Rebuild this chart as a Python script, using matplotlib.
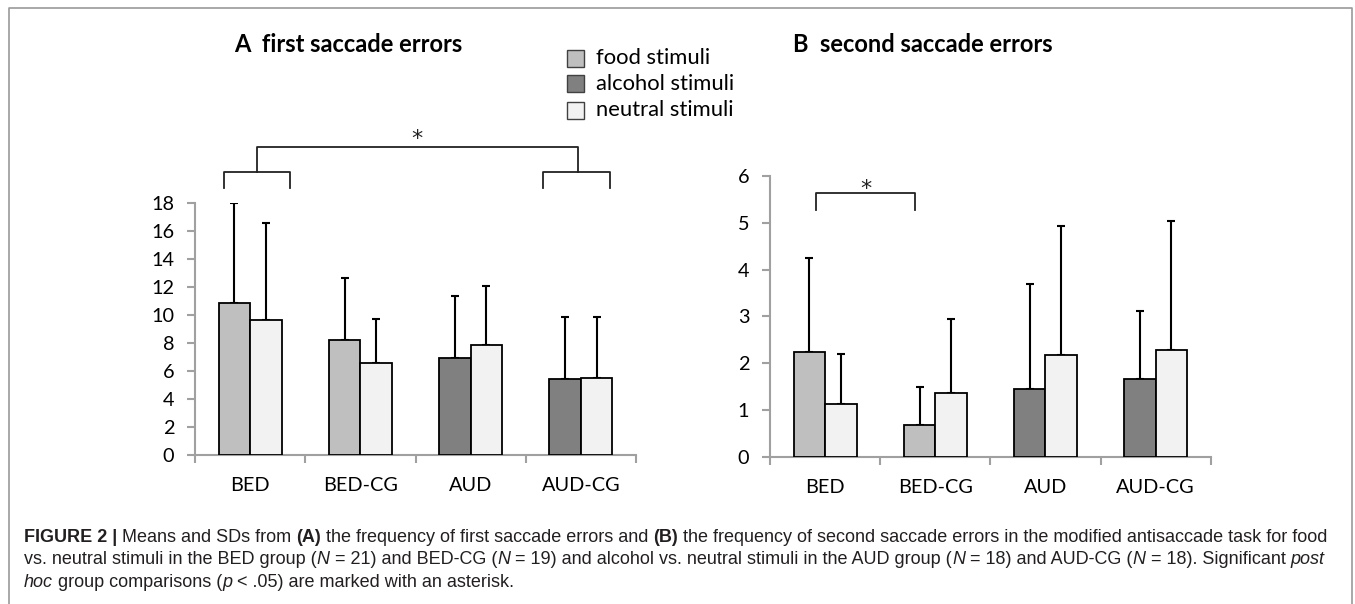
import matplotlib
matplotlib.use("Agg")
import matplotlib.pyplot as plt
from matplotlib.patches import Rectangle
from matplotlib.lines import Line2D
import numpy as np

# ---------------- data ----------------
groups = ["BED", "BED-CG", "AUD", "AUD-CG"]
stim_type = ["food", "food", "alcohol", "alcohol"]

# A: first saccade errors
a_stim_mean = [10.86, 8.22, 6.94, 5.40]
a_stim_sd = [7.14, 4.40, 4.40, 4.42]
a_neut_mean = [9.60, 6.56, 7.85, 5.47]
a_neut_sd = [6.97, 3.12, 4.20, 4.35]

# B: second saccade errors
b_stim_mean = [2.24, 0.68, 1.44, 1.67]
b_stim_sd = [2.00, 0.81, 2.25, 1.45]
b_neut_mean = [1.13, 1.37, 2.17, 2.28]
b_neut_sd = [1.07, 1.57, 2.76, 2.76]

a_yticks = [0, 2, 4, 6, 8, 10, 12, 14, 16, 18]
b_yticks = [0, 1, 2, 3, 4, 5, 6]

legend_labels = ["food stimuli", "alcohol stimuli", "neutral stimuli"]

# ---------------- style ----------------
C_FOOD = "#BFBFBF"
C_ALC = "#808080"
C_NEUT = "#F2F2F2"
C_SPINE = "#A0A0A0"
CHART_FONT = ["Lato", "DejaVu Sans"]
CAP_FONT = ["Liberation Sans", "DejaVu Sans"]

W, H = 1355, 604
fig = plt.figure(figsize=(W / 100, H / 100), dpi=100)
fig.patch.set_facecolor("white")


def fx(x):
    return x / W


def fy(y):
    return 1 - y / H


colors_stim = [C_FOOD if s == "food" else C_ALC for s in stim_type]
TICK_SIZE = 14.3


def make_panel(rect, stim_mean, stim_sd, neut_mean, neut_sd, yticks):
    ax = fig.add_axes(rect)
    x = np.arange(len(groups))
    bw = 0.286
    ax.bar(x - bw / 2, stim_mean, width=bw, color=colors_stim, edgecolor="black",
           linewidth=1.3, zorder=3)
    ax.bar(x + bw / 2, neut_mean, width=bw, color=C_NEUT, edgecolor="black",
           linewidth=1.3, zorder=3)
    for xs, m, s in [(x - bw / 2, stim_mean, stim_sd), (x + bw / 2, neut_mean, neut_sd)]:
        ax.errorbar(xs, m, yerr=[np.zeros(len(m)), s], fmt="none", ecolor="black",
                    elinewidth=1.5, capsize=3, capthick=1.5, zorder=2)
    ax.set_xlim(-0.5, len(groups) - 0.5)
    ax.set_ylim(0, yticks[-1])
    ax.set_yticks(yticks)
    ax.set_yticklabels([str(t) for t in yticks], fontfamily=CHART_FONT, fontsize=TICK_SIZE)
    ax.set_xticks(x)
    ax.set_xticklabels(groups, fontfamily=CHART_FONT, fontsize=TICK_SIZE)
    ax.set_xticks(np.arange(len(groups) + 1) - 0.5, minor=True)
    ax.tick_params(axis="x", which="major", length=0, pad=16)
    ax.tick_params(axis="x", which="minor", length=6, width=1.5, color=C_SPINE, direction="out")
    ax.tick_params(axis="y", length=6, width=1.5, color=C_SPINE, pad=9)
    for sp in ["top", "right"]:
        ax.spines[sp].set_visible(False)
    for sp in ["left", "bottom"]:
        ax.spines[sp].set_color(C_SPINE)
        ax.spines[sp].set_linewidth(1.5)
    ax.spines["left"].set_zorder(5)
    return ax


axA = make_panel([fx(195), fy(455), fx(636) - fx(195), fy(202.7) - fy(455)],
                 a_stim_mean, a_stim_sd, a_neut_mean, a_neut_sd, a_yticks)
axB = make_panel([fx(770), fy(456.7), fx(1210.7) - fx(770), fy(176) - fy(456.7)],
                 b_stim_mean, b_stim_sd, b_neut_mean, b_neut_sd, b_yticks)

# ---------------- significance brackets ----------------
def bracket(ax, x0, x1, y_top, y_bot, lw=1.3):
    ax.add_line(Line2D([x0, x0, x1, x1], [y_bot, y_top, y_top, y_bot], color="#222222",
                       lw=lw, clip_on=False))

STAR_FONT = ["DejaVu Sans"]
# A: nested bracket between BED and AUD-CG
bracket(axA, -0.24, 0.36, 20.16, 19.02)
bracket(axA, 2.66, 3.26, 20.16, 19.02)
bracket(axA, 0.06, 2.97, 22.0, 20.16)
axA.text((0.06 + 2.97) / 2, 22.1, "*", ha="center", va="baseline", fontsize=16,
         fontfamily=STAR_FONT, color="#222222", clip_on=False)

# B: BED vs BED-CG
bracket(axB, -0.08, 0.82, 5.63, 5.28)
axB.text(0.37, 5.60, "*", ha="center", va="baseline", fontsize=16,
         fontfamily=STAR_FONT, color="#222222", clip_on=False)

# ---------------- titles ----------------
fig.text(fx(348), fy(45), "A  first saccade errors", ha="center", va="center",
         fontsize=17, fontweight="bold", fontfamily=CHART_FONT)
fig.text(fx(923), fy(45), "B  second saccade errors", ha="center", va="center",
         fontsize=17, fontweight="bold", fontfamily=CHART_FONT)

# ---------------- legend ----------------
leg_colors = [C_FOOD, C_ALC, C_NEUT]
leg_rows = [58.3, 83.8, 110.0]
for c, lab, yc in zip(leg_colors, legend_labels, leg_rows):
    fig.patches.append(Rectangle((fx(567), fy(yc + 8.5)), fx(17), 17 / H, facecolor=c,
                                 edgecolor="#404040", linewidth=1.0,
                                 transform=fig.transFigure, figure=fig))
    fig.text(fx(596), fy(yc), lab, ha="left", va="center", fontsize=15.8,
             fontfamily=CHART_FONT)

# ---------------- frame ----------------
fig.add_artist(Line2D([fx(9), fx(9), fx(1351.5), fx(1351.5)], [0, fy(8), fy(8), 0],
                      transform=fig.transFigure, color="#9A9A9A", lw=1.2))

# ---------------- caption ----------------
caption_lines = [
    [("FIGURE 2 | ", "bold"), ("Means and SDs from ", "normal"), ("(A)", "bold"),
     (" the frequency of first saccade errors and ", "normal"), ("(B)", "bold"),
     (" the frequency of second saccade errors in the modified antisaccade task for food", "normal")],
    [("vs. neutral stimuli in the BED group (", "normal"), ("N", "italic"),
     (" = 21) and BED-CG (", "normal"), ("N", "italic"),
     (" = 19) and alcohol vs. neutral stimuli in the AUD group (", "normal"), ("N", "italic"),
     (" = 18) and AUD-CG (", "normal"), ("N", "italic"), (" = 18). Significant ", "normal"),
     ("post", "italic")],
    [("hoc", "italic"), (" group comparisons (", "normal"), ("p", "italic"),
     (" < .05) are marked with an asterisk.", "normal")],
]
baselines = [541.7, 564.3, 587.0]

fig.canvas.draw()
renderer = fig.canvas.get_renderer()


def run_kw(style, size):
    kw = dict(fontsize=size, fontfamily=CAP_FONT, color="#231F20")
    if style == "bold":
        kw["fontweight"] = "bold"
    elif style == "italic":
        kw["fontstyle"] = "italic"
    return kw


# fit first caption line to its width in the reference (24 px -> 1337 px)
probe_size = 10.0
total = 0.0
for txt, style in caption_lines[0]:
    t = fig.text(0, 0, txt, **run_kw(style, probe_size))
    total += t.get_window_extent(renderer=renderer).width
    t.remove()
cap_size = probe_size * (1337 - 24) / total

for runs, yb in zip(caption_lines, baselines):
    xcur = 24.0
    for txt, style in runs:
        t = fig.text(fx(xcur), fy(yb), txt, ha="left", va="baseline", **run_kw(style, cap_size))
        xcur += t.get_window_extent(renderer=renderer).width

fig.savefig("out.png", dpi=100, facecolor="white")
